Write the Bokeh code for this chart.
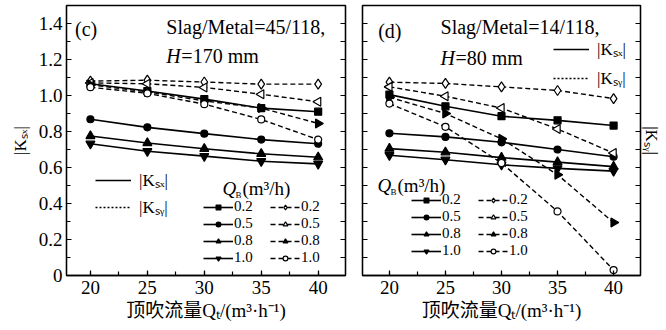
import math
from bokeh.plotting import figure
from bokeh.models import (Range1d, LinearAxis, Legend, LegendItem, Label, SingleIntervalTicker,
                          FixedTicker, CustomJSTickFormatter)
from bokeh.layouts import row
from bokeh.embed import file_html
from bokeh.resources import INLINE

# ---------------- data ----------------
qt = [20, 25, 30, 35, 40]
qb_labels = ["0.2", "0.5", "0.8", "1.0"]

# panel (c): Slag/Metal = 45/118, H = 170 mm
c_ksx_q02 = [1.065, 1.025, 0.980, 0.930, 0.910]
c_ksx_q05 = [0.868, 0.823, 0.788, 0.755, 0.732]
c_ksx_q08 = [0.775, 0.736, 0.704, 0.676, 0.657]
c_ksx_q10 = [0.732, 0.690, 0.663, 0.635, 0.620]
c_ksy_q02 = [1.080, 1.085, 1.075, 1.063, 1.063]
c_ksy_q05 = [1.070, 1.065, 1.045, 1.007, 0.965]
c_ksy_q08 = [1.060, 1.020, 0.970, 0.930, 0.845]
c_ksy_q10 = [1.046, 1.012, 0.952, 0.867, 0.755]

# panel (d): Slag/Metal = 14/118, H = 80 mm
d_ksx_q02 = [1.005, 0.940, 0.885, 0.862, 0.833]
d_ksx_q05 = [0.790, 0.770, 0.740, 0.700, 0.660]
d_ksx_q08 = [0.705, 0.685, 0.655, 0.630, 0.605]
d_ksx_q10 = [0.668, 0.643, 0.615, 0.595, 0.580]
d_ksy_q02 = [1.074, 1.067, 1.048, 1.028, 0.983]
d_ksy_q05 = [1.048, 0.996, 0.930, 0.814, 0.680]
d_ksy_q08 = [0.990, 0.900, 0.759, 0.560, 0.294]
d_ksy_q10 = [0.955, 0.826, 0.625, 0.356, 0.030]

y_ticks_minor = [round(0.1 * i, 1) for i in range(16)]

SERIF = "'Liberation Serif', 'Noto Sans CJK SC', serif"
XLABEL = "顶吹流量Qₜ/(m³·h⁻¹)"
KSX = "|Kₛₓ|"
KSY = "|Kₛᵧ|"

SX_STYLE = [("square", 0.0, "black", 7), ("circle", 0.0, "black", 7),
            ("triangle", 0.0, "black", 9), ("inverted_triangle", 0.0, "black", 9)]
SY_STYLE = [("diamond", 0.0, "white", 10), ("triangle", math.pi / 2, "white", 9),
            ("triangle", -math.pi / 2, "black", 9), ("circle", 0.0, "white", 7)]


def style_axis(ax):
    ax.major_tick_in = 5
    ax.major_tick_out = 0
    ax.minor_tick_in = 4
    ax.minor_tick_out = 0
    ax.axis_line_width = 1.3
    ax.major_tick_line_width = 1.2
    ax.minor_tick_line_width = 1.2
    ax.axis_line_color = "black"
    ax.major_tick_line_color = "black"
    ax.minor_tick_line_color = "black"
    ax.major_label_text_font = SERIF
    ax.major_label_text_color = "black"
    ax.major_label_text_font_size = "19px"
    ax.major_label_standoff = 4
    ax.axis_label_text_font = SERIF
    ax.axis_label_text_font_style = "normal"
    ax.axis_label_text_color = "black"


def bare_y_axis(ax):
    style_axis(ax)
    ax.ticker = FixedTicker(ticks=[], minor_ticks=y_ticks_minor)
    ax.minor_tick_in = 5


def txt(p, x, y, text, size="20px", style="normal", xo=0, yo=0):
    p.add_layout(Label(x=x, y=y, x_offset=xo, y_offset=yo, text=text,
                       text_font=SERIF, text_font_style=style, text_font_size=size,
                       text_color="black", text_baseline="middle", text_align="left"))


def make_panel(fw, bl, br, xr, ksx, ksy, tag, slag, hval, left_labels,
               qb_pos, qb_loc, small_loc, small_spacing, texts):
    p = figure(frame_width=fw, frame_height=270, x_range=Range1d(*xr), y_range=Range1d(0, 1.5),
               output_backend="svg", toolbar_location=None,
               min_border_left=bl, min_border_right=br, min_border_top=5, min_border_bottom=0,
               background_fill_color="white", border_fill_color="white")
    p.grid.visible = False
    p.outline_line_color = "black"
    p.outline_line_width = 1.3

    p.xaxis.ticker = SingleIntervalTicker(interval=5, num_minor_ticks=2)
    style_axis(p.xaxis[0])
    p.xaxis.major_label_standoff = 5
    p.xaxis.axis_label = XLABEL
    p.xaxis.axis_label_text_font_size = "19px"
    p.xaxis.axis_label_standoff = 3

    if left_labels:
        p.yaxis.ticker = SingleIntervalTicker(interval=0.2, num_minor_ticks=2)
        style_axis(p.yaxis[0])
        p.yaxis.formatter = CustomJSTickFormatter(
            code="return Math.abs(tick) < 1e-9 ? '0' : tick.toFixed(1);")
        p.yaxis.axis_label = KSX
        p.yaxis.axis_label_text_font_size = "17px"
        p.yaxis.axis_label_standoff = 6
    else:
        bare_y_axis(p.yaxis[0])

    rax = LinearAxis()
    bare_y_axis(rax)
    if not left_labels:
        rax.axis_label = KSY
        rax.axis_label_text_font_size = "17px"
        rax.axis_label_standoff = 1
    p.add_layout(rax, "right")

    sx_items, sy_items = [], []
    for lab, ys, (mk, ang, fill, sz) in zip(qb_labels, ksx, SX_STYLE):
        rl = p.line(qt, ys, line_color="black", line_width=1.6)
        rs = p.scatter(qt, ys, marker=mk, angle=ang, size=sz, fill_color=fill,
                       line_color="black", line_width=1.2)
        sx_items.append(LegendItem(label=lab, renderers=[rl, rs]))
    for lab, ys, (mk, ang, fill, sz) in zip(qb_labels, ksy, SY_STYLE):
        rl = p.line(qt, ys, line_color="black", line_width=1.4, line_dash="5 3")
        rs = p.scatter(qt, ys, marker=mk, angle=ang, size=sz, fill_color=fill,
                       line_color="black", line_width=1.2)
        sy_items.append(LegendItem(label=lab, renderers=[rl, rs]))

    leg = Legend(items=sx_items + sy_items, location=qb_loc, nrows=4,
                 glyph_width=30, glyph_height=12, label_height=12, label_width=36,
                 label_standoff=1, spacing=0, padding=0, margin=0,
                 border_line_alpha=0, background_fill_alpha=0,
                 label_text_font=SERIF, label_text_font_size="15px",
                 label_text_color="black")
    p.add_layout(leg)

    # style-key legend (renderers hidden in the plot, drawn only as legend glyphs)
    e1 = p.line(qt, ksx[0], line_color="black", line_width=1.4, visible=False)
    e2 = p.line(qt, ksy[0], line_color="black", line_width=1.3, line_dash="2 2", visible=False)
    leg2 = Legend(items=[LegendItem(label=KSX, renderers=[e1]), LegendItem(label=KSY, renderers=[e2])],
                  location=small_loc, glyph_width=36, glyph_height=14, label_height=14,
                  label_standoff=8, spacing=small_spacing, padding=0, margin=0,
                  border_line_alpha=0, background_fill_alpha=0,
                  label_text_font=SERIF, label_text_font_size="17px",
                  label_text_color="black")
    p.add_layout(leg2)

    qx, qy = qb_pos
    txt(p, qx, qy, "Q", size="19px", style="italic")
    txt(p, qx, qy, "B", size="9px", xo=13, yo=-6)
    txt(p, qx, qy, "(m³/h)", size="19px", xo=20)

    (tx, ty), (sx_, sy_), (hx, hy) = texts
    txt(p, tx, ty, tag)
    txt(p, sx_, sy_, slag)
    txt(p, hx, hy, "H", style="italic")
    txt(p, hx, hy, hval, xo=15)
    return p


p1 = make_panel(279, 66, 8, (17.9, 42.4),
                [c_ksx_q02, c_ksx_q05, c_ksx_q08, c_ksx_q10],
                [c_ksy_q02, c_ksy_q05, c_ksy_q08, c_ksy_q10],
                "(c)", "Slag/Metal=45/118,", "=170 mm", True,
                (31.6, 0.483), (137, 9), (29, 57), 4,
                ((18.65, 1.372), (26.67, 1.378), (26.67, 1.222)))
p2 = make_panel(278, 9, 26, (17.6, 42.4),
                [d_ksx_q02, d_ksx_q05, d_ksx_q08, d_ksx_q10],
                [d_ksy_q02, d_ksy_q05, d_ksy_q08, d_ksy_q10],
                "(d)", "Slag/Metal=14/118,", "=80 mm", False,
                (18.94, 0.50), (49, 16), (191, 186), 6,
                ((19.0, 1.361), (24.56, 1.378), (24.56, 1.211)))

layout = row(p1, p2)
open("out.html", "w").write(file_html(layout, INLINE))
